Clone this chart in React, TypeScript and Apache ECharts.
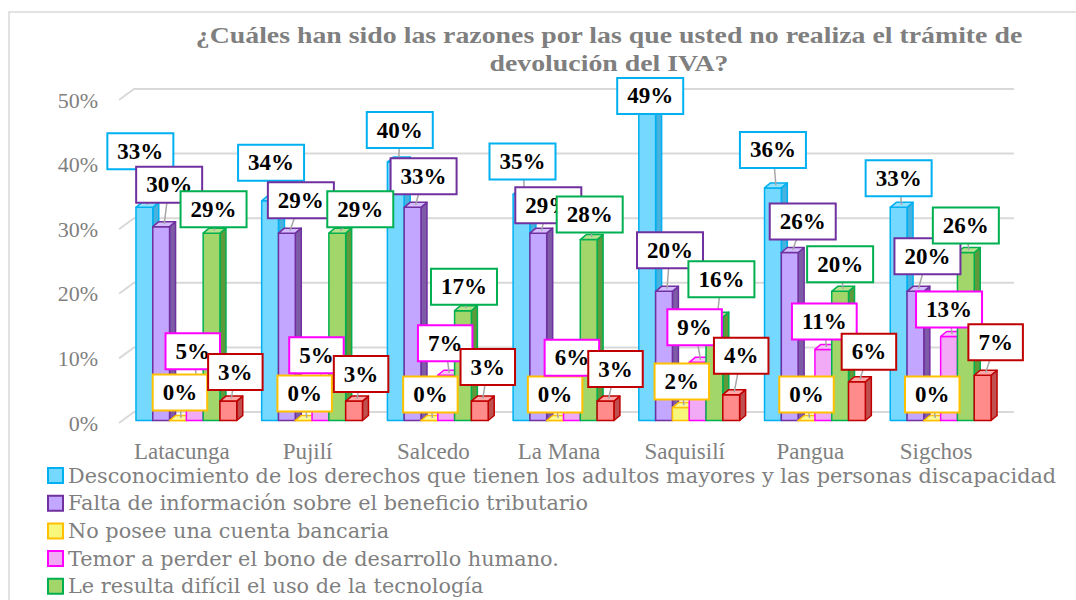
import React, { useEffect, useRef } from "react";
import * as echarts from "echarts";

const categories = ["Latacunga", "Pujilí", "Salcedo", "La Mana", "Saquisilí", "Pangua", "Sigchos"];
const seriesNames = [
  "Desconocimiento de los derechos que tienen los adultos mayores y las personas discapacidad",
  "Falta de información sobre el beneficio tributario",
  "No posee una cuenta bancaria",
  "Temor a perder el bono de desarrollo humano.",
  "Le resulta difícil el uso de la tecnología",
  "Otros",
];
const desconocimiento = [33, 34, 40, 35, 49, 36, 33];
const faltaInformacion = [30, 29, 33, 29, 20, 26, 20];
const noCuentaBancaria = [0, 0, 0, 0, 2, 0, 0];
const temorBono = [5, 5, 7, 6, 9, 11, 13];
const dificilTecnologia = [29, 29, 17, 28, 16, 20, 26];
const otros = [3, 3, 3, 3, 4, 6, 7];
const yTicks = [0, 10, 20, 30, 40, 50];

const seriesValues = [desconocimiento, faltaInformacion, noCuentaBancaria, temorBono, dificilTecnologia, otros];

// layout: label offsets (px) from each bar's top
const labelOffsets: number[][][] = [
  [[-4, -56], [1, -38], [4, -32], [1, -33], [3, -8], [0, -38], [0, -29]],
  [[8, -42], [14, -33], [11, -31], [10, -28], [6, -41], [13, -31], [12, -35]],
  [[2, -28], [1, -27], [1, -26], [0, -26], [1, -26], [0, -26], [0, -26]],
  [[-2, -37], [-4, -33], [-1, -32], [0, -24], [-3, -35], [1, -28], [0, -27]],
  [[2, -24], [23, -24], [1, -24], [1, -25], [7, -38], [0, -27], [0, -27]],
  [[7, -29], [7, -27], [8, -34], [10, -32], [10, -39], [12, -30], [13, -33]],
];

const fills = ["#75D8FF", "#C3A6FF", "#F7F77C", "#F2AAF7", "#A2D66A", "#FF8B8B"];
const borders = ["#00B0F0", "#7030A0", "#FFC000", "#FF00FF", "#00B050", "#C00000"];
const sides = ["#48B2DE", "#7D5BA6", "#C9C84E", "#C27FCA", "#5E9A3A", "#BF5050"];
const tops = ["#92E1FF", "#D4BEFF", "#FAFA9E", "#F6C2FA", "#B8E18E", "#FFA8A8"];

const SERIF = "Liberation Serif";
const WIDE_SERIF = "DejaVu Serif";
const GRAY = "#7F7F7F";
const BAR_W = 16.8;
const GROUP_W = BAR_W * 6;
const GROUP_SHIFT = 4.5;
const BASE_SHIFT = -2.5;
const DX = 6;
const DY = -5;

function barSeries(idx: number) {
  return {
    type: "custom",
    name: seriesNames[idx],
    coordinateSystem: "cartesian2d",
    data: seriesValues[idx].map((v, k) => [k, v]),
    encode: { x: 0, y: 1 },
    itemStyle: { color: fills[idx], borderColor: borders[idx] },
    renderItem: (params: any, api: any) => {
      const k = api.value(0);
      const v = api.value(1);
      const base = api.coord([k, 0]);
      const top = api.coord([k, v]);
      const x0 = base[0] + GROUP_SHIFT - GROUP_W / 2 + BAR_W * idx;
      const yb = base[1] + BASE_SHIFT;
      const yt = top[1] + BASE_SHIFT;
      const cx = x0 + BAR_W / 2;
      const off = labelOffsets[idx][k];
      const lx = cx + off[0];
      const ly = yt + off[1];
      const stroke = { stroke: borders[idx], lineWidth: 1.5, lineJoin: "round" };
      return {
        type: "group",
        children: [
          {
            type: "polygon",
            z2: 1,
            shape: { points: [[x0 + BAR_W, yt], [x0 + BAR_W + DX, yt + DY], [x0 + BAR_W + DX, yb + DY], [x0 + BAR_W, yb]] },
            style: { fill: sides[idx], ...stroke },
          },
          {
            type: "rect",
            z2: 1,
            shape: { x: x0, y: yt, width: BAR_W, height: yb - yt },
            style: { fill: fills[idx], ...stroke },
          },
          {
            type: "polygon",
            z2: 1,
            shape: { points: [[x0, yt], [x0 + DX, yt + DY], [x0 + BAR_W + DX, yt + DY], [x0 + BAR_W, yt]] },
            style: { fill: tops[idx], ...stroke },
          },
          {
            type: "line",
            z2: 50,
            shape: { x1: cx + DX / 2, y1: yt + DY / 2, x2: lx, y2: ly },
            style: { stroke: "#A6A6A6", lineWidth: 1.5 },
          },
          {
            type: "text",
            z2: 100,
            x: lx,
            y: ly,
            style: {
              text: v + "%",
              fontSize: 23,
              fontWeight: "bold",
              fontFamily: SERIF,
              fill: "#000",
              align: "center",
              verticalAlign: "middle",
              backgroundColor: "#fff",
              borderColor: borders[idx],
              borderWidth: 2,
              padding: [6, 9, 5, 9],
            },
          },
        ],
      };
    },
  };
}

const gridSeries = {
  type: "custom",
  name: "grid3d",
  silent: true,
  z: 1,
  coordinateSystem: "cartesian2d",
  data: yTicks.map((t) => [0, t]),
  encode: { x: 0, y: 1 },
  renderItem: (params: any, api: any) => {
    const cs = params.coordSys;
    const y = api.coord([0, api.value(1)])[1];
    return {
      type: "polyline",
      shape: { points: [[cs.x, y], [cs.x + 15, y - 11], [cs.x + cs.width + 15, y - 11]] },
      style: { stroke: "#D9D9D9", lineWidth: 2, fill: "none" },
    };
  },
};

export default function App() {
  const ref = useRef<HTMLDivElement>(null);
  useEffect(() => {
    if (!ref.current) return;
    const chart = echarts.init(ref.current, null, { renderer: "svg" });
    chart.setOption({
      animation: false,
      backgroundColor: "#fff",
      graphic: [
        {
          type: "rect",
          silent: true,
          z: -10,
          shape: { x: 9, y: 12, width: 1200, height: 700 },
          style: { fill: "none", stroke: "#D9D9D9", lineWidth: 1.5 },
        },
        {
          type: "text",
          x: 609,
          y: 21,
          scaleX: 1.21,
          style: {
            text: "¿Cuáles han sido las razones por las que usted no realiza el trámite de\ndevolución del IVA?",
            fontSize: 23,
            fontWeight: "bold",
            fontFamily: SERIF,
            fill: GRAY,
            align: "center",
            lineHeight: 28,
          },
        },
      ],
      grid: { left: 119, top: 100, width: 880, height: 323, outerBoundsMode: "none" },
      xAxis: {
        type: "category",
        data: categories,
        axisLine: { show: false },
        axisTick: { show: false },
        axisLabel: { interval: 0, fontSize: 23, color: GRAY, fontFamily: SERIF, margin: 17 },
      },
      yAxis: {
        type: "value",
        min: 0,
        max: 50,
        interval: 10,
        splitLine: { show: false },
        axisLine: { show: false },
        axisTick: { show: false },
        axisLabel: { formatter: "{value}%", fontSize: 22, color: GRAY, fontFamily: SERIF, margin: 21 },
      },
      legend: {
        orient: "vertical",
        left: 47,
        top: 465,
        height: 400,
        padding: 0,
        itemWidth: 15,
        itemHeight: 15,
        itemGap: 6.7,
        icon: "rect",
        selectedMode: false,
        textStyle: { fontSize: 20.8, color: GRAY, fontFamily: WIDE_SERIF },
        data: seriesNames.map((n, i) => ({
          name: n,
          itemStyle: { color: fills[i], borderColor: borders[i], borderWidth: 2 },
        })),
      },
      series: [gridSeries, ...seriesNames.map((_, i) => barSeries(i))],
    });
    return () => chart.dispose();
  }, []);
  return <div ref={ref} style={{ position: "absolute", left: 0, top: 0, width: 1076, height: 600 }} />;
}
